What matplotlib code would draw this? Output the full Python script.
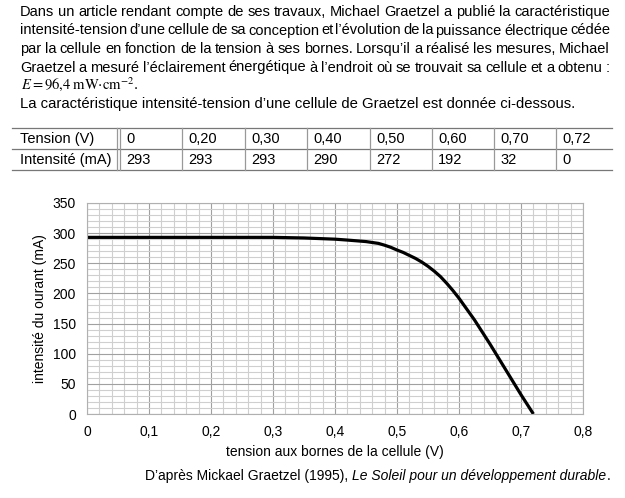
import matplotlib
matplotlib.use("Agg")
import matplotlib.pyplot as plt
from matplotlib.lines import Line2D
from matplotlib.ticker import MultipleLocator

plt.rcParams['font.family'] = ['Liberation Sans', 'DejaVu Sans']
plt.rcParams['mathtext.fontset'] = 'stix'

# table values
tension_txt = ["0", "0,20", "0,30", "0,40", "0,50", "0,60", "0,70", "0,72"]
intensite_txt = ["293", "293", "293", "290", "272", "192", "32", "0"]

# points
v_curve = [0, 0.1, 0.2, 0.3, 0.35, 0.4, 0.42, 0.45, 0.46, 0.47, 0.48, 0.49, 0.5,
           0.51, 0.52, 0.53, 0.54, 0.55, 0.56, 0.57, 0.58, 0.59, 0.6, 0.625, 0.65, 0.7, 0.72]
i_curve = [293, 293, 293, 293, 292, 290, 288.5, 286, 284.5, 283, 280, 276.5, 272,
           268, 263, 258, 252, 245, 237, 228, 217, 205, 192, 156, 116, 32, 0]

x_ticks = [0, 0.1, 0.2, 0.3, 0.4, 0.5, 0.6, 0.7, 0.8]
x_ticklabels = ["0", "0,1", "0,2", "0,3", "0,4", "0,5", "0,6", "0,7", "0,8"]
y_ticks = [0, 50, 100, 150, 200, 250, 300, 350]

W, H = 625, 498
fig = plt.figure(figsize=(W / 100, H / 100), dpi=100)
renderer = fig.canvas.get_renderer()


def fx(x):
    return x / W


def fy(y):
    return 1 - y / H


def width_px(t):
    return t.get_window_extent(renderer).width


# paragraph text, justified between x=20 and x=610
para = [
    "Dans un article rendant compte de ses travaux, Michael Graetzel a publié la caractéristique",
    "intensité-tension d\u2019une cellule de sa conception et l\u2019évolution de la puissance électrique cédée",
    "par la cellule en fonction de la tension à ses bornes. Lorsqu\u2019il a réalisé les mesures, Michael",
    "Graetzel a mesuré l\u2019éclairement énergétique à l\u2019endroit où se trouvait sa cellule et a obtenu :",
]
for k, line in enumerate(para):
    words = line.split(" ")
    texts = [fig.text(0, fy(16 + k * 18.5), w, fontsize=10.5, va='baseline', ha='left') for w in words]
    widths = [width_px(t) for t in texts]
    gap = (590 - sum(widths)) / (len(words) - 1)
    x = 20
    for t, w in zip(texts, widths):
        t.set_x(fx(x))
        x += w + gap

fig.text(fx(21), fy(89), r'$E = 96{,}4\;\mathrm{mW{\cdot}cm^{-2}}$.', fontsize=10.5,
         va='baseline', ha='left')
fig.text(fx(20), fy(108), "La caractéristique intensité-tension d\u2019une cellule de Graetzel est donnée ci-dessous.",
         fontsize=10.7, va='baseline', ha='left')

# table
t_left, t_right = 12, 612
rows_y = [128, 149, 170]
col_x = [120, 182, 245, 307, 370, 432, 494, 556]
for y in rows_y:
    fig.add_artist(Line2D([fx(t_left), fx(t_right)], [fy(y), fy(y)], color='#777777', lw=0.9))
for j, x in enumerate(col_x):
    fig.add_artist(Line2D([fx(x), fx(x)], [fy(rows_y[0]), fy(rows_y[-1])], color='#999999', lw=0.9))
    if j == 0:
        fig.add_artist(Line2D([fx(x - 3), fx(x - 3)], [fy(rows_y[0]), fy(rows_y[-1])],
                              color='#999999', lw=0.9))
fig.text(fx(20), fy(143), "Tension (V)", fontsize=10.5, va='baseline')
fig.text(fx(20), fy(164), "Intensité (mA)", fontsize=10.5, va='baseline')
for j in range(len(tension_txt)):
    fig.text(fx(col_x[j] + 6), fy(143), tension_txt[j], fontsize=10.5, va='baseline')
    fig.text(fx(col_x[j] + 6), fy(164), intensite_txt[j], fontsize=10.5, va='baseline')

# chart
ax = fig.add_axes([fx(87), fy(414), (583 - 87) / W, (414 - 203) / H])
ax.plot(v_curve, i_curve, color='black', lw=2.3, solid_capstyle='butt')
ax.set_xlim(0, 0.8)
ax.set_ylim(0, 350)
ax.set_xticks(x_ticks)
ax.set_xticklabels(x_ticklabels)
ax.set_yticks(y_ticks)
ax.xaxis.set_minor_locator(MultipleLocator(0.02))
ax.yaxis.set_minor_locator(MultipleLocator(10))
ax.grid(which='major', color='#a0a0a0', lw=0.8)
ax.grid(which='minor', color='#cfcfcf', lw=0.8)
ax.set_axisbelow(True)
for s in ax.spines.values():
    s.set_color('#b0b0b0')
    s.set_linewidth(0.8)
ax.tick_params(which='both', length=0, labelsize=10, pad=8)
ax.set_xlabel("tension aux bornes de la cellule (V)", fontsize=10, labelpad=4)
ax.set_ylabel("intensité du ourant (mA)", fontsize=10, labelpad=4)

# source caption, right-aligned at x=610
parts = [("D\u2019après Mickael Graetzel (1995), ", 'normal'),
         ("Le Soleil pour un développement durable", 'italic'),
         (".", 'normal')]
cap = [fig.text(0, fy(480), s, fontsize=10, style=st, va='baseline', ha='left') for s, st in parts]
cap_w = [width_px(t) for t in cap]
x = 610 - sum(cap_w)
for t, w in zip(cap, cap_w):
    t.set_x(fx(x))
    x += w

fig.savefig("out.png", dpi=100)
